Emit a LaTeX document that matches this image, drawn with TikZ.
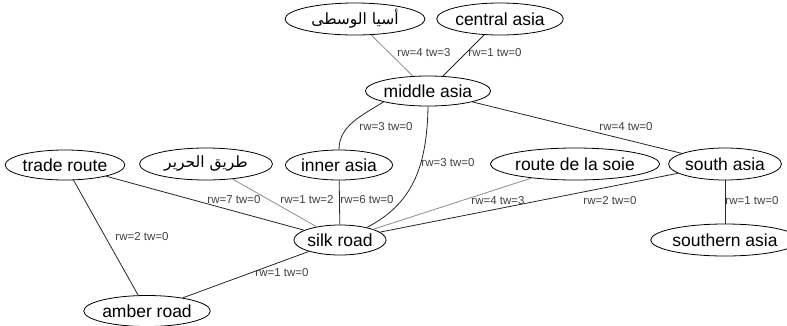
\documentclass[tikz,border=0pt]{standalone}
\usepackage{fontspec}
\setmainfont{Liberation Sans}
\newfontfamily\arabicfont[Script=Arabic]{DejaVu Sans}
\TeXXeTstate=1
\usetikzlibrary{shapes.geometric}
\begin{document}
\begin{tikzpicture}[x=1pt,y=1pt,
  place/.style={ellipse, draw, line width=0.8pt, inner sep=0pt,
    font=\fontsize{17.5}{20}\selectfont},
  link/.style={line width=0.8pt, draw=black!85},
  faint/.style={line width=0.8pt, draw=black!45},
  wt/.style={font=\fontsize{11.5}{13}\selectfont, text=black!75, inner sep=1pt}]
\useasboundingbox (0,0) rectangle (787,-325);

% places
\node[place, minimum width=140pt, minimum height=32pt] (wusta) at (355,-19)
  {\fontsize{15.5}{18}\arabicfont\beginR أسيا الوسطى\endR};
\node[place, minimum width=115pt, minimum height=32pt] (central) at (500,-19) {central asia};
\node[place, minimum width=116pt, minimum height=30pt] (mid) at (428,-91) {middle asia};
\node[place, minimum width=112pt, minimum height=30pt] (trade) at (65,-165) {trade route};
\node[place, minimum width=133pt, minimum height=32pt] (harir) at (206,-164)
  {\fontsize{15.5}{18}\arabicfont\beginR طريق الحرير\endR};
\node[place, minimum width=96pt, minimum height=30pt] (inner) at (339,-165) {inner asia};
\node[place, minimum width=152pt, minimum height=32pt] (soie) at (575,-164) {route de la soie};
\node[place, minimum width=106pt, minimum height=32pt] (south) at (725,-164) {south asia};
\node[place, minimum width=86pt, minimum height=30pt] (silk) at (340,-240) {silk road};
\node[place, minimum width=126pt, minimum height=32pt] (southern) at (725,-240) {southern asia};
\node[place, minimum width=114pt, minimum height=31pt] (amber) at (147,-311) {amber road};

% connections
\draw[faint] (wusta) -- (mid);
\draw[link] (central) -- (mid);
\draw[link] (mid.south west) .. controls +(-22,-14) and +(0,24) .. (inner.north);
\draw[link] (mid.south) .. controls +(-1,-63) and +(44,23) .. (silk.25);
\draw[link] (mid) -- (south);
\draw[link] (trade) -- (silk);
\draw[link] (trade) -- (amber);
\draw[faint] (harir) -- (silk);
\draw[link] (inner) -- (silk);
\draw[faint] (soie) -- (silk);
\draw[link] (south) -- (silk);
\draw[link] (south) -- (southern);
\draw[link] (silk) -- (amber);

% weights
\node[wt] (w1) at (424,-53) {rw=4 tw=3};
\node[wt] (w2) at (495,-53) {rw=1 tw=0};
\node[wt] (w3) at (386,-127) {rw=3 tw=0};
\node[wt] (w4) at (626,-127) {rw=4 tw=0};
\node[wt] (w5) at (448,-163) {rw=3 tw=0};
\node[wt] (w6) at (234,-200) {rw=7 tw=0};
\node[wt] (w7) at (307,-200) {rw=1 tw=2};
\node[wt] (w8) at (367,-200) {rw=6 tw=0};
\node[wt] (w9) at (498,-201) {rw=4 tw=3};
\node[wt] (w10) at (610,-201) {rw=2 tw=0};
\node[wt] (w11) at (752,-201) {rw=1 tw=0};
\node[wt] (w12) at (142,-237) {rw=2 tw=0};
\node[wt] (w13) at (282,-273) {rw=1 tw=0};
\end{tikzpicture}
\end{document}
